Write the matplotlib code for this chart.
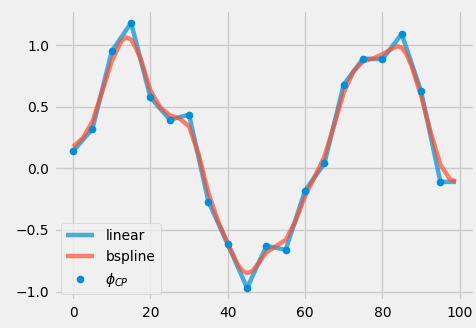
import matplotlib
matplotlib.use('Agg')
import matplotlib.pyplot as plt

# control points
x_cp = [0, 5, 10, 15, 20, 25, 30, 35, 40, 45, 50, 55, 60, 65, 70, 75, 80, 85, 90, 95]
phi_cp = [0.14, 0.32, 0.95, 1.18, 0.575, 0.395, 0.435, -0.27, -0.615, -0.97,
          -0.63, -0.66, -0.18, 0.04, 0.68, 0.89, 0.885, 1.09, 0.625, -0.11]

# linear interpolation (held flat after the last control point)
x_linear = x_cp + [99]
y_linear = phi_cp + [-0.11]

# bspline curve
x_bspline = [0, 2.5, 5, 7.5, 10, 12.5, 13.75, 15, 16.25, 17.5, 20, 22.5, 25,
             27.5, 30, 32.5, 35, 37.5, 40, 42.5, 43.75, 45, 46.25, 47.5, 50,
             52.5, 55, 57.5, 60, 62.5, 65, 67.5, 70, 72.5, 75, 77.5, 80, 82.5,
             83.75, 85, 86.25, 87.5, 90, 92.5, 95, 97.5, 99]
y_bspline = [0.175, 0.245, 0.38, 0.62, 0.87, 1.035, 1.062, 1.045, 0.975, 0.885,
             0.63, 0.495, 0.43, 0.405, 0.34, 0.11, -0.2, -0.43, -0.61, -0.775,
             -0.83, -0.85, -0.835, -0.79, -0.68, -0.63, -0.58, -0.43, -0.225,
             -0.067, 0.095, 0.35, 0.615, 0.785, 0.87, 0.89, 0.925, 0.97, 0.99,
             0.98, 0.925, 0.835, 0.59, 0.29, 0.03, -0.09, -0.105]

plt.style.use('fivethirtyeight')
plt.rcParams['font.size'] = 10
plt.rcParams['lines.linewidth'] = 3.2

fig = plt.figure(figsize=(4.76, 3.28), dpi=100)
ax = fig.add_axes([0.1134, 0.0817, 0.8845, 0.889])

ax.plot(x_linear, y_linear, color='#008fd5', alpha=0.7, label='linear')
ax.plot(x_bspline, y_bspline, color='#fc4f30', alpha=0.7, label='bspline')
ax.plot(x_cp, phi_cp, 'o', color='#008fd5', markersize=4.5, label=r'$\phi_{CP}$')

ax.set_xticks([0, 20, 40, 60, 80, 100])
ax.set_yticks([-1.0, -0.5, 0.0, 0.5, 1.0])
ax.legend(loc='lower left', fontsize=10)

fig.savefig('out.png', dpi=100, facecolor='#f0f0f0')
